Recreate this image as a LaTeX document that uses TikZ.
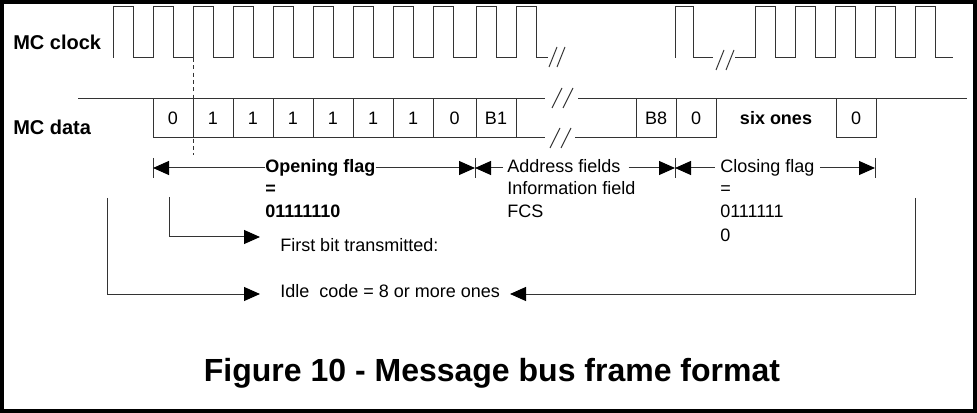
\documentclass[tikz,border=0pt]{standalone}
\usepackage{fontspec}
\setmainfont{Liberation Sans}
\usetikzlibrary{arrows.meta}
\begin{document}
\begin{tikzpicture}[x=0.75pt,y=-0.75pt,
  wave/.style={draw=black!80,line width=0.75pt},
  dim/.style={draw=black!80,line width=0.75pt,-{Triangle[length=12pt,width=10.5pt,color=black]}},
  txt/.style={font=\fontsize{13.5}{16}\selectfont,inner sep=0pt,anchor=base west},
  txtb/.style={txt,font=\fontsize{13.5}{16}\selectfont\bfseries},
  cell/.style={font=\fontsize{13.5}{16}\selectfont,inner sep=0pt},
  sig/.style={font=\fontsize{15}{18}\selectfont\bfseries,inner sep=0pt,anchor=base west}]
\useasboundingbox (0,0) rectangle (977,413);
% outer frame
\draw[line width=3pt] (2,2) rectangle (975,411);

% signal names
\node[sig] (mcclock) at (13,50) {MC clock};
\node[sig] (mcdata) at (13,135) {MC data};

% clock waveform
\draw[wave] (113,58) -- (113,7) -- (133,7) -- (133,58)
  foreach \r in {153,193,233,273,313,353,393,433,476,516} {
    -- (\r,58) -- (\r,7) -- (\r+20,7) -- (\r+20,58) } -- (548,58);
\draw[wave] (549,67) -- (557,47) (557,67) -- (565,47);
\draw[wave] (675,58) -- (675,7) -- (693,7) -- (693,58) -- (713,58);
\draw[wave] (716,70) -- (724,50) (726,70) -- (734,50);
\draw[wave] (735,58)
  foreach \r in {755,795,835,875,915} {
    -- (\r,58) -- (\r,7) -- (\r+20,7) -- (\r+20,58) } -- (953,58);
\draw[wave,dash pattern=on 3pt off 2.5pt] (193,58) -- (193,155);

% data line and bit cells
\draw[wave] (78,99) -- (545,99) (578,99) -- (967,99);
\draw[wave] (153,138) -- (545,138) (575,138) -- (716,138) (836,138) -- (876,138);
\draw[wave] (552,108) -- (562,88) (563,108) -- (573,88);
\draw[wave] (550,148) -- (560,128) (561,148) -- (571,128);
\foreach \x in {153,193,233,273,313,353,393,433,476,516,636,676,716,836,876}
  \draw[wave] (\x,99) -- (\x,138);
\node[cell] (c1) at (173,118) {0};
\node[cell] (c2) at (213,118) {1};
\node[cell] (c3) at (253,118) {1};
\node[cell] (c4) at (293,118) {1};
\node[cell] (c5) at (333,118) {1};
\node[cell] (c6) at (373,118) {1};
\node[cell] (c7) at (413,118) {1};
\node[cell] (c8) at (454.5,118) {0};
\node[cell] (cb1) at (496,118) {B1};
\node[cell] (cb8) at (656,118) {B8};
\node[cell] (c9) at (696,118) {0};
\node[cell,font=\fontsize{13.5}{16}\selectfont\bfseries] (six) at (776,118) {six ones};
\node[cell] (c10) at (856,118) {0};

% field limits
\coordinate (t1) at (153,168);
\coordinate (t2) at (475,168);
\coordinate (t3) at (675,168);
\coordinate (t4) at (875,168);
\foreach \t in {t1,t2,t3,t4}
  \draw[wave] (\t) ++(0,-10) -- ++(0,20);

% field texts
\node[txtb] (of1) at (265,173) {Opening flag};
\node[txtb] (of2) at (265,195) {=};
\node[txtb] (of3) at (265,218) {01111110};
\node[txt] (af1) at (507,173) {Address fields};
\node[txt] (af2) at (507,195) {Information field};
\node[txt] (af3) at (507,218) {FCS};
\node[txt] (cf1) at (720,173) {Closing flag};
\node[txt] (cf2) at (720,195) {=};
\node[txt] (cf3) at (720,218) {0111111};
\node[txt] (cf4) at (720,242) {0};

\draw[dim] (of1.west |- t1) -- (t1);
\draw[dim] (of1.east |- t2) -- (t2);
\draw[dim] ([xshift=-3pt]af1.west |- t2) -- (t2);
\draw[dim] ([xshift=6pt]af1.east |- t3) -- (t3);
\draw[dim] ([xshift=-4pt]cf1.west |- t3) -- (t3);
\draw[dim] ([xshift=4pt]cf1.east |- t4) -- (t4);

% first bit and idle code
\node[txt] (firstbit) at (280,252) {First bit transmitted:};
\node[txt] (idle) at (280,297) {Idle\ \ code = 8 or more ones};
\coordinate (fbtop) at (169,197);
\coordinate (fbtip) at (260,237);
\draw[dim] (fbtop) |- (fbtip);
\coordinate (idl) at (107,198);
\coordinate (idltip) at (260,294);
\coordinate (idr) at (915,198);
\coordinate (idrtip) at (510,294);
\draw[dim] (idl) |- (idltip);
\draw[dim] (idr) |- (idrtip);

% caption
\node[font=\fontsize{24}{28}\selectfont\bfseries,inner sep=0pt,anchor=base] (title) at (492,381) {Figure 10 - Message bus frame format};
\end{tikzpicture}
\end{document}
